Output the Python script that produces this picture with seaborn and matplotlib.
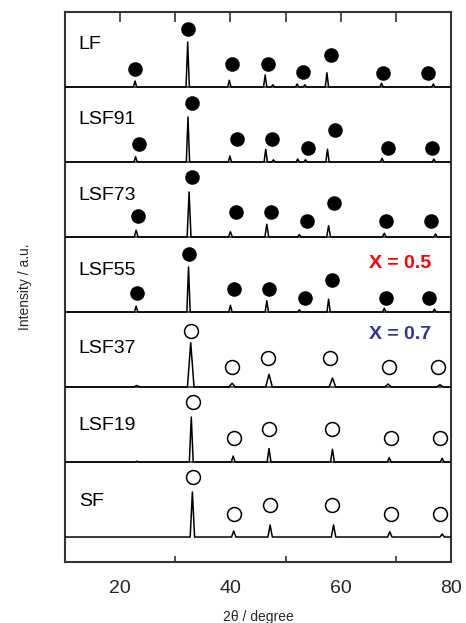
import numpy as np
import pandas as pd
import matplotlib
matplotlib.use("Agg")
import matplotlib.pyplot as plt
import seaborn as sns

sns.set_theme(style="white")
plt.rcParams['font.family'] = ['Liberation Sans', 'DejaVu Sans']

# ---------------- data ----------------
samples = ["LF", "LSF91", "LSF73", "LSF55", "LSF37", "LSF19", "SF"]
offsets = [6, 5, 4, 3, 2, 1, 0]

peak_pos = {
    "LF":    [22.7, 32.25, 39.8, 46.3, 47.7, 52.1, 53.5, 57.5, 67.4, 76.8],
    "LSF91": [22.8, 32.3, 39.9, 46.4, 47.8, 52.2, 53.6, 57.6, 67.5, 76.9],
    "LSF73": [22.9, 32.5, 40.0, 46.6, 52.5, 57.8, 67.9, 77.2],
    "LSF55": [22.9, 32.4, 40.0, 46.6, 52.5, 57.8, 67.9, 77.0],
    "LSF37": [23.0, 32.8, 40.3, 47.0, 58.5, 68.6, 78.0],
    "LSF19": [23.0, 32.9, 40.5, 47.0, 58.5, 68.8, 78.4],
    "SF":    [33.1, 40.6, 47.2, 58.7, 68.9, 78.4],
}
peak_int = {
    "LF":    [0.08, 0.60, 0.09, 0.16, 0.03, 0.04, 0.03, 0.19, 0.05, 0.04],
    "LSF91": [0.07, 0.60, 0.08, 0.17, 0.03, 0.04, 0.03, 0.17, 0.05, 0.04],
    "LSF73": [0.09, 0.60, 0.07, 0.17, 0.03, 0.15, 0.05, 0.04],
    "LSF55": [0.08, 0.60, 0.09, 0.15, 0.03, 0.17, 0.05, 0.04],
    "LSF37": [0.02, 0.59, 0.05, 0.17, 0.12, 0.04, 0.03],
    "LSF19": [0.01, 0.60, 0.08, 0.18, 0.17, 0.06, 0.05],
    "SF":    [0.60, 0.08, 0.16, 0.16, 0.07, 0.04],
}
peak_halfwidth = {"LF": 0.3, "LSF91": 0.3, "LSF73": 0.35, "LSF55": 0.3,
                  "LSF37": 0.6, "LSF19": 0.35, "SF": 0.4}

marker_pos = {
    "LF":    [22.7, 32.3, 40.3, 46.8, 53.2, 58.2, 67.7, 75.8],
    "LSF91": [23.5, 33.0, 41.2, 47.5, 54.1, 59.0, 68.6, 76.6],
    "LSF73": [23.2, 33.0, 41.0, 47.4, 53.8, 58.7, 68.3, 76.4],
    "LSF55": [23.0, 32.5, 40.6, 47.0, 53.5, 58.4, 68.2, 76.1],
    "LSF37": [32.8, 40.3, 46.9, 58.1, 68.8, 77.7],
    "LSF19": [33.3, 40.6, 47.0, 58.4, 69.1, 78.0],
    "SF":    [33.3, 40.6, 47.2, 58.4, 69.1, 78.0],
}
marker_h = {
    "LF":    [0.24, 0.77, 0.31, 0.31, 0.20, 0.43, 0.19, 0.19],
    "LSF91": [0.24, 0.79, 0.31, 0.31, 0.19, 0.43, 0.19, 0.19],
    "LSF73": [0.28, 0.80, 0.34, 0.34, 0.21, 0.46, 0.21, 0.21],
    "LSF55": [0.25, 0.78, 0.31, 0.31, 0.19, 0.43, 0.19, 0.19],
    "LSF37": [0.75, 0.27, 0.39, 0.39, 0.27, 0.27],
    "LSF19": [0.80, 0.32, 0.44, 0.44, 0.32, 0.32],
    "SF":    [0.80, 0.31, 0.43, 0.43, 0.31, 0.31],
}
filled = {"LF": True, "LSF91": True, "LSF73": True, "LSF55": True,
          "LSF37": False, "LSF19": False, "SF": False}
label_h = [0.57, 0.57, 0.56, 0.55, 0.52, 0.49, 0.47]

x_range = [10, 80]
xticks = [20, 40, 60, 80]

# ---------------- build tables ----------------
rows = []
for s, off in zip(samples, offsets):
    w = peak_halfwidth[s]
    pts = [(x_range[0], 0.0)]
    for p, h in zip(peak_pos[s], peak_int[s]):
        pts += [(p - w, 0.0), (p, h), (p + w, 0.0)]
    pts.append((x_range[1], 0.0))
    for x, y in pts:
        rows.append({"sample": s, "tth": x, "I": y + off})
trace = pd.DataFrame(rows)

mrows = []
for s, off in zip(samples, offsets):
    for p, h in zip(marker_pos[s], marker_h[s]):
        mrows.append({"sample": s, "tth": p, "I": h + off, "filled": filled[s]})
marks = pd.DataFrame(mrows)

# ---------------- plot ----------------
fig = plt.figure(figsize=(4.66, 6.23), dpi=100)
ax = fig.add_axes([65/466, 1 - 562/623, (451-65)/466, (562-12)/623])

frame_c = "#333333"
for off in offsets[:-1]:
    ax.axhline(off, color=frame_c, lw=1.2, zorder=1)

sns.lineplot(data=trace, x="tth", y="I", units="sample", estimator=None,
             sort=False, color="black", lw=1.1, ax=ax, zorder=3)

sns.scatterplot(data=marks[marks["filled"]], x="tth", y="I", s=110,
                color="black", edgecolor="black", linewidth=0, ax=ax, zorder=4)
sns.scatterplot(data=marks[~marks["filled"]], x="tth", y="I", s=100,
                facecolor="white", edgecolor="black", linewidth=1.1, ax=ax, zorder=4)

for s, off, lh in zip(samples, offsets, label_h):
    ax.text(12.5, off + lh, s, fontsize=14, va="center", ha="left", color="black")

ax.text(70.8, 3.65, "X = 0.5", color="#FF0000", fontsize=14, fontweight="bold",
        ha="center", va="center")
ax.text(70.8, 2.7, "X = 0.7", color="#333399", fontsize=14, fontweight="bold",
        ha="center", va="center")

ax.set_xlim(*x_range)
ax.set_ylim(-0.333, 7.0)
ax.set_yticks([])
ax.set_xticks(xticks)
ax.set_xticks([30, 50, 70], minor=True)
ax.tick_params(axis="x", which="major", direction="in", length=8, width=1.2,
               color=frame_c, labelsize=14, pad=13)
ax.tick_params(axis="x", which="minor", direction="in", length=4, width=1.2,
               color=frame_c, bottom=True)
top = ax.secondary_xaxis("top")
top.set_xticks([20, 30, 40, 50, 60, 70])
top.tick_params(direction="in", length=7, width=1.2, color=frame_c, labeltop=False)
top.spines["top"].set_visible(False)

for sp in ax.spines.values():
    sp.set_color(frame_c)
    sp.set_linewidth(1.5)

ax.set_xlabel("2θ / degree", fontsize=10, labelpad=9)
ax.set_ylabel("Intensity / a.u.", fontsize=10, labelpad=24)

fig.savefig("out.png", dpi=100)
